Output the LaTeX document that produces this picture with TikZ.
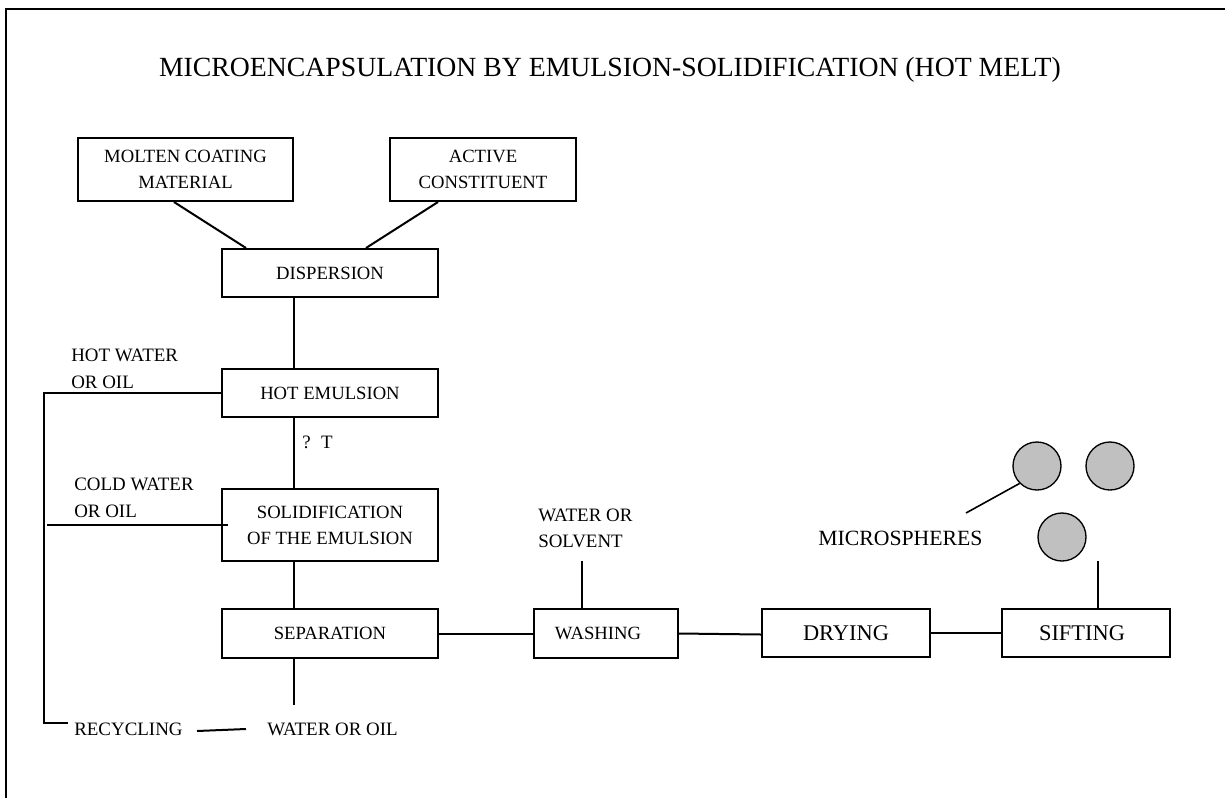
\documentclass[tikz,border=0pt]{standalone}
\usepackage{fontspec}
\setmainfont{Liberation Serif}
\usetikzlibrary{calc}
\definecolor{sgray}{HTML}{C0C0C0}
\begin{document}
\begin{tikzpicture}[x=0.75pt,y=-0.75pt,
  box/.style={draw, line width=1.5pt, inner sep=0pt, align=center, font=\fontsize{14}{19.5}\selectfont},
  bigbox/.style={box, font=\fontsize{16.8}{20}\selectfont},
  lbl/.style={inner sep=0pt, anchor=west, align=left, font=\fontsize{14.2}{20}\selectfont},
  conn/.style={line width=1.5pt},
  sphere/.style={circle, draw, line width=1pt, fill=sgray, minimum size=36pt, inner sep=0pt}
]
\useasboundingbox (0,0) rectangle (1225,797);
% frame
\draw[line width=1.5pt] (5.5,800) -- (5.5,9) -- (1230,9);
% title
\node[inner sep=0pt, font=\fontsize{20.8}{24}\selectfont] (title) at (610,70) {MICROENCAPSULATION BY EMULSION-SOLIDIFICATION (HOT MELT)};
% boxes
\node[box, minimum width=161.25pt, minimum height=47.25pt] (molten) at (185.5,169.5) {MOLTEN COATING\\MATERIAL};
\node[box, minimum width=139.5pt, minimum height=47.25pt] (active) at (483,169.5) {ACTIVE\\CONSTITUENT};
\node[box, minimum width=162pt, minimum height=36pt] (disp) at (330,273) {DISPERSION};
\node[box, minimum width=162pt, minimum height=36pt] (hot) at (330,393) {HOT EMULSION};
\node[box, minimum width=162pt, minimum height=54pt] (solid) at (330,525) {SOLIDIFICATION\\OF THE EMULSION};
\node[box, minimum width=162pt, minimum height=36.75pt] (sep) at (330,633.5) {SEPARATION};
\node[box, minimum width=108pt, minimum height=36.75pt] (wash) at (606,633.5) {\hspace*{-12pt}WASHING};
\node[bigbox, minimum width=126pt, minimum height=36pt] (dry) at (846,633) {DRYING};
\node[bigbox, minimum width=126pt, minimum height=36pt] (sift) at (1086,633) {\hspace*{-6pt}SIFTING};
% spheres
\node[sphere] (s1) at (1037,466) {};
\node[sphere] (s2) at (1110,466) {};
\node[sphere] (s3) at (1062,537) {};
% free labels
\node[lbl] (hotw) at (71,368.5) {HOT WATER\\OR OIL};
\node[lbl] (coldw) at (74,498) {COLD WATER\\OR OIL};
\node[lbl] (wsolv) at (538,528.5) {WATER OR\\SOLVENT};
\node[lbl] (recyc) at (74,729) {RECYCLING};
\node[lbl] (woil) at (267,729) {WATER OR OIL};
\node[lbl] (dT) at (302,442) {?\hspace{0.55em}T};
\node[lbl, font=\fontsize{16.3}{20}\selectfont] (micro) at (818,538) {MICROSPHERES};
% coordinates for free ends
\coordinate (lt) at (44,393);
\coordinate (lb) at (44,723);
\coordinate (rc) at (68,723);
\coordinate (cw) at (47,525);
\coordinate (wend) at (294,705);
\coordinate (r1) at (197,731);
\coordinate (r2) at (246,729);
\coordinate (wtop) at (582,561);
\coordinate (stop) at (1098,561);
\coordinate (mline) at (966,513);
% connectors
\draw[conn] ($(molten.south)+(-11.5,0)$) -- ($(disp.north)+(-84,0)$);
\draw[conn] ($(active.south)+(-45,0)$) -- ($(disp.north)+(36,0)$);
\draw[conn] ($(disp.south)+(-36,0)$) -- ($(hot.north)+(-36,0)$);
\draw[conn] ($(hot.south)+(-36,0)$) -- ($(solid.north)+(-36,0)$);
\draw[conn] ($(solid.south)+(-36,0)$) -- ($(sep.north)+(-36,0)$);
\draw[conn] ($(sep.south)+(-36,-2)$) -- (wend);
\draw[conn] (hot.west) -- (lt) -- (lb) -- (rc);
\draw[conn] (cw) -- ($(solid.west)+(7,0)$);
\draw[conn] (r1) -- (r2);
\draw[conn] (sep.east) -- (wash.west);
\draw[conn] (wtop) -- (wtop |- wash.north);
\draw[conn] (wash.east) -- ($(dry.west)+(0,1.5)$);
\draw[conn] (dry.east) -- (sift.west);
\draw[conn] (stop) -- (stop |- sift.north);
\draw[line width=1.2pt] (mline) -- (s1.south west);
\end{tikzpicture}
\end{document}
